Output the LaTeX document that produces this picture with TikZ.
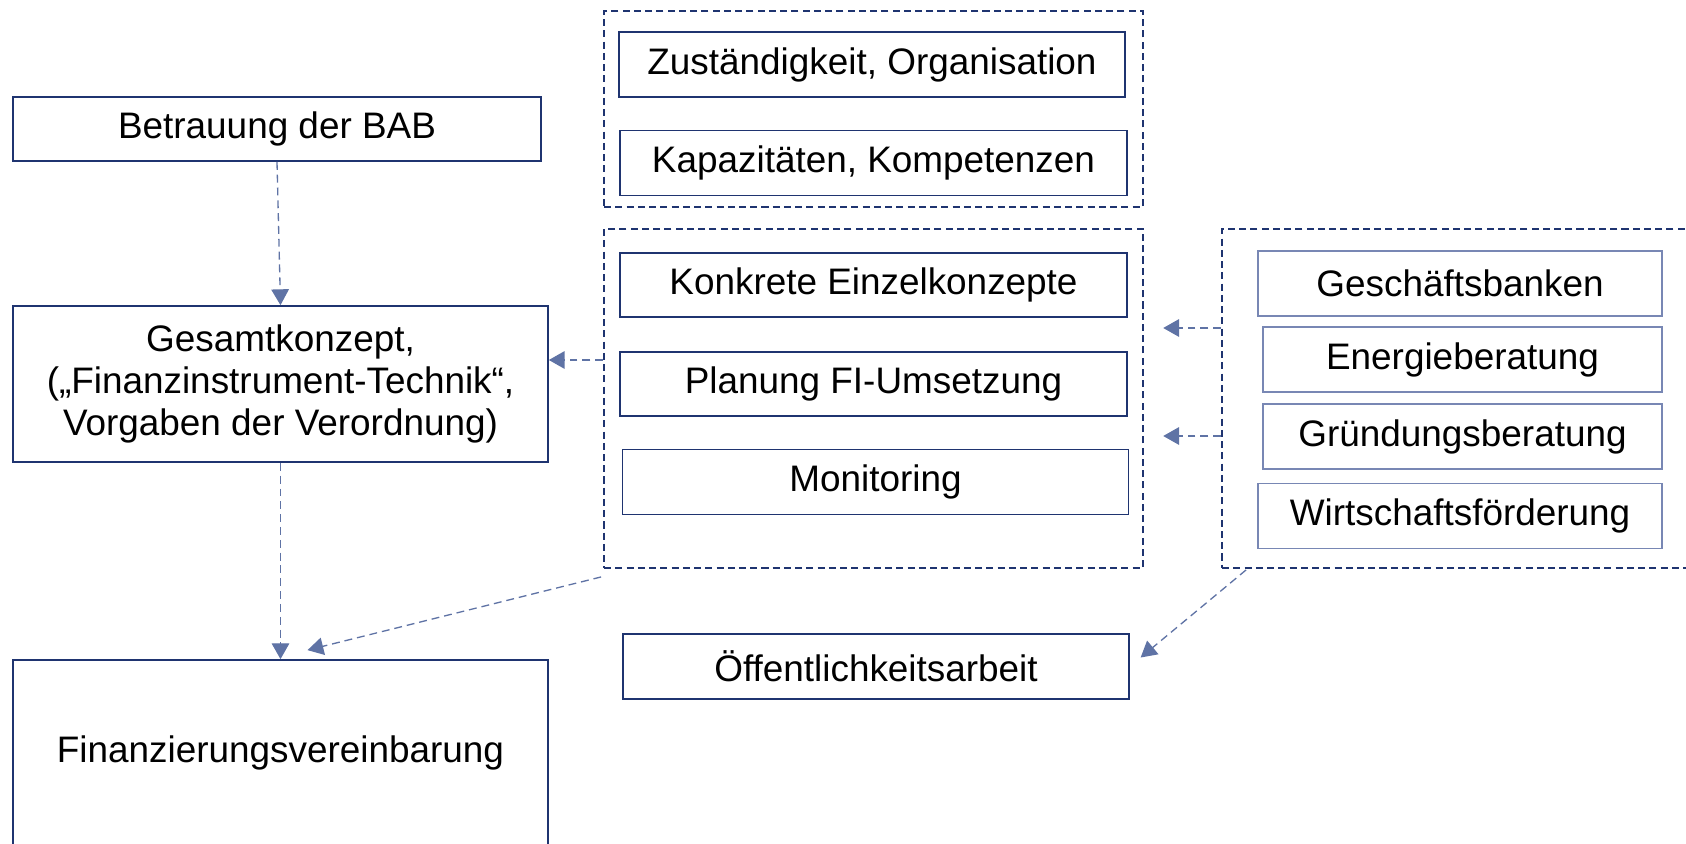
\documentclass[tikz,border=0pt]{standalone}
\usepackage{fontspec}
\setmainfont{Liberation Sans}
\usetikzlibrary{arrows.meta, positioning}
\definecolor{navy}{RGB}{31,52,112}
\definecolor{linkblue}{RGB}{95,115,165}
\definecolor{paleblue}{RGB}{120,135,180}
\tikzset{
box/.style={draw=navy, line width=1pt, align=center, inner sep=0pt, font=\fontsize{21}{24}\selectfont}, % solid frame of each step
palebox/.style={box, draw=paleblue, line width=0.7pt}, % lighter boxes of the partners
groupframe/.style={draw=navy, line width=1.1pt, dash pattern=on 4pt off 2.4pt, inner sep=0pt}, % dashed frame round a group
flow/.style={draw=linkblue, line width=0.75pt, dash pattern=on 4.5pt off 2.8pt, -{Triangle[length=9pt, width=10pt]}}, % dashed arrow with a filled head
}

\begin{document}
\begin{tikzpicture}[x=0.02cm, y=-0.02cm]
    \useasboundingbox (0,0) rectangle (1686,844);
    \clip (0,0) rectangle (1686,844);
    % left column
    \node[box, minimum width=10.56cm, minimum height=1.28cm] (bab) at (277,129) {Betrauung der BAB};
    \node[box, minimum width=10.7cm, minimum height=3.12cm] (gesamt) at (280.5,384) {Gesamtkonzept,\\(„Finanzinstrument-Technik“,\\Vorgaben der Verordnung)};
    \node[box, minimum width=10.7cm, minimum height=3.72cm] (finanz) at (280.5,753) {Finanzierungsvereinbarung};
    % middle column
    \node[groupframe, minimum width=10.78cm, minimum height=3.92cm] (frameA) at (873.5,109) {};
    \node[groupframe, minimum width=10.78cm, minimum height=6.78cm] (frameB) at (873.5,398.5) {};
    \node[box, minimum width=10.12cm, minimum height=1.3cm] (zust) at (872,64.5) {Zuständigkeit, Organisation};
    \node[box, minimum width=10.14cm, minimum height=1.3cm] (kap) at (873.5,163) {Kapazitäten, Kompetenzen};
    \node[box, minimum width=10.14cm, minimum height=1.28cm] (konkret) at (873.5,285) {Konkrete Einzelkonzepte};
    \node[box, minimum width=10.14cm, minimum height=1.28cm] (planung) at (873.5,384) {Planung FI-Umsetzung};
    \node[box, minimum width=10.12cm, minimum height=1.3cm] (monitor) at (875.5,482) {Monitoring};
    \node[box, minimum width=10.12cm, minimum height=1.3cm] (oeff) at (876,666.5) {Öffentlichkeitsarbeit};
    % right column
    \node[groupframe, minimum width=9.56cm, minimum height=6.78cm] (frameC) at (1461,398.5) {};
    \node[palebox, minimum width=8.08cm, minimum height=1.3cm] (gesch) at (1460,283.5) {Geschäftsbanken};
    \node[palebox, minimum width=7.98cm, minimum height=1.3cm] (energie) at (1462.5,359.5) {Energieberatung};
    \node[palebox, minimum width=7.98cm, minimum height=1.3cm] (gruend) at (1462.5,436.5) {Gründungsberatung};
    \node[palebox, minimum width=8.08cm, minimum height=1.3cm] (wirt) at (1460,516) {Wirtschaftsförderung};
    \coordinate (lvlG) at (0,360);
    \coordinate (lvlA) at (0,328);
    \coordinate (lvlB) at (0,436);
    \draw[flow] (bab.south) -- (gesamt.north);
    \draw[flow] (gesamt.south) -- (finanz.north);
    \draw[flow] (frameB.west |- lvlG) -- (gesamt.east |- lvlG);
    \draw[flow] ([shift={(-2,8)}]frameB.south west) -- ([shift={(27,-9)}]finanz.north);
    \draw[flow, shorten >=11pt] (frameC.west |- lvlA) -- (frameB.east |- lvlA);
    \draw[flow, shorten >=11pt] (frameC.west |- lvlB) -- (frameB.east |- lvlB);
    \draw[flow, shorten >=8pt] ([shift={(25,1)}]frameC.south west) -- (oeff.east);
\end{tikzpicture}
\end{document}
